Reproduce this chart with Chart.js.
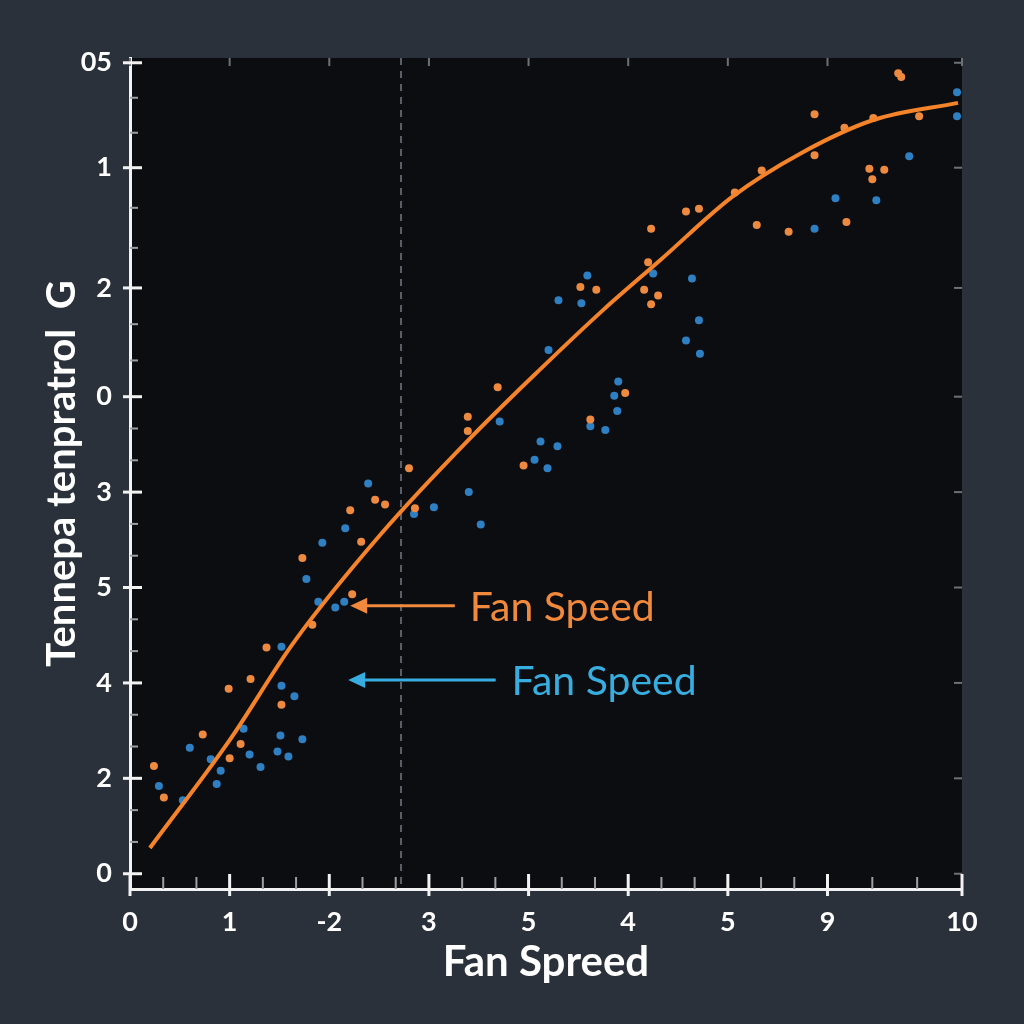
<!DOCTYPE html>
<html>
<head>
<meta charset="utf-8">
<script src="https://cdn.jsdelivr.net/npm/chart.js@4.4.1/dist/chart.umd.min.js"></script>
<style>
  html, body { margin: 0; padding: 0; background: #2b313a; }
  canvas { display: block; }
</style>
</head>
<body>
<canvas id="chart" width="1024" height="1024"></canvas>
<script>
// axis ticks (positions + the odd labels printed on the picture)
var xTickVals = [0, 1, 2, 3, 4, 5, 6, 7, 8.35];
var xTickLabels = ['0', '1', '-2', '3', '5', '4', '5', '9', '10'];
var yTickVals = [0, 1, 2, 3, 4, 5, 6.14, 7.4, 8.5];
var yTickLabels = ['0', '2', '4', '5', '3', '0', '2', '1', '05'];

// fitted curve
var curvePts = [[0.20, 0.27], [1.00, 1.40], [1.64, 2.42], [2.51, 3.55], [3.41, 4.56],
  [4.09, 5.26], [4.75, 5.91], [5.32, 6.43], [6.05, 7.10], [6.73, 7.55], [7.46, 7.90], [8.31, 8.08]];

// orange samples
var orangePts = [[0.24, 1.13], [0.34, 0.80], [0.73, 1.46], [0.99, 1.94], [1.00, 1.21], [1.11, 1.36],
  [1.21, 2.04], [1.37, 2.37], [1.52, 1.77], [1.83, 2.61], [1.73, 3.31], [2.23, 2.93], [2.21, 3.81],
  [2.32, 3.48], [2.46, 3.92], [2.56, 3.87], [2.80, 4.25], [2.86, 3.83], [3.39, 4.79], [3.39, 4.64],
  [3.69, 5.10], [3.95, 4.28], [4.52, 6.15], [4.68, 6.12], [4.62, 4.76], [4.97, 5.04], [5.16, 6.12],
  [5.30, 6.06], [5.23, 5.97], [5.20, 6.41], [5.23, 6.76], [5.58, 6.94], [5.71, 6.97], [6.07, 7.14],
  [6.29, 6.80], [6.34, 7.37], [6.61, 6.73], [6.87, 7.53], [6.87, 7.96], [7.19, 6.83], [7.17, 7.82],
  [7.46, 7.92], [7.42, 7.39], [7.45, 7.28], [7.57, 7.38], [7.92, 7.94], [7.71, 8.39], [7.74, 8.35]];

// blue samples
var bluePts = [[0.29, 0.92], [0.53, 0.77], [0.60, 1.32], [0.81, 1.20], [0.91, 1.08], [0.87, 0.94],
  [1.14, 1.52], [1.20, 1.25], [1.31, 1.12], [1.52, 2.38], [1.52, 1.97], [1.65, 1.86], [1.51, 1.45],
  [1.48, 1.28], [1.59, 1.23], [1.73, 1.41], [1.77, 3.09], [1.89, 2.85], [2.15, 2.85], [2.06, 2.79],
  [1.93, 3.47], [2.16, 3.62], [2.39, 4.09], [2.85, 3.77], [3.05, 3.84], [3.40, 4.00], [3.52, 3.66],
  [3.71, 4.74], [4.06, 4.34], [4.19, 4.25], [4.12, 4.53], [4.29, 4.48], [4.20, 5.49], [4.30, 6.01],
  [4.59, 6.27], [4.53, 5.98], [4.62, 4.69], [4.77, 4.65], [4.90, 5.16], [4.86, 5.01], [4.89, 4.85],
  [5.25, 6.29], [5.64, 6.24], [5.71, 5.80], [5.58, 5.59], [5.72, 5.45], [6.87, 6.76], [7.08, 7.08],
  [7.49, 7.06], [7.82, 7.52], [8.30, 8.19], [8.30, 7.94]];

// dashed marker and the two arrow notes (data units)
var markerX = 2.72;
var notes = [
  { text: 'Fan Speed', color: '#f0893c', from: 3.26, to: 2.21, y: 2.81, textX: 3.41 },
  { text: 'Fan Speed', color: '#38aee0', from: 3.67, to: 2.19, y: 2.03, textX: 3.83 }
];

var BG = '#2b313a';
var PLOT = '#0c0d11';

function toXY(arr) {
  return arr.map(function(p) { return { x: p[0], y: p[1] }; });
}

function thirds(majors) {
  var out = [];
  for (var i = 0; i < majors.length - 1; i++) {
    var step = (majors[i + 1] - majors[i]) / 3;
    out.push(majors[i] + step, majors[i] + 2 * step);
  }
  return out;
}

var bgPlugin = {
  id: 'bg',
  beforeDraw: function(chart) {
    var ctx = chart.ctx, a = chart.chartArea;
    ctx.save();
    ctx.fillStyle = BG;
    ctx.fillRect(0, 0, chart.width, chart.height);
    ctx.fillStyle = PLOT;
    ctx.fillRect(a.left, a.top, a.right - a.left, a.bottom - a.top);
    // dashed vertical marker
    var mx = chart.scales.x.getPixelForValue(markerX);
    ctx.strokeStyle = '#5b6068';
    ctx.lineWidth = 2;
    ctx.setLineDash([7, 6]);
    ctx.beginPath();
    ctx.moveTo(mx, a.top);
    ctx.lineTo(mx, a.bottom);
    ctx.stroke();
    ctx.restore();
  }
};

var ticksPlugin = {
  id: 'axisTicks',
  afterDraw: function(chart) {
    var ctx = chart.ctx, a = chart.chartArea;
    var xs = chart.scales.x, ys = chart.scales.y;
    ctx.save();
    ctx.lineCap = 'butt';
    // minor ticks (grey, inside)
    ctx.strokeStyle = '#9ca0a6';
    ctx.lineWidth = 2;
    thirds(xTickVals).forEach(function(v) {
      var px = xs.getPixelForValue(v);
      ctx.beginPath(); ctx.moveTo(px, a.bottom - 12); ctx.lineTo(px, a.bottom); ctx.stroke();
    });
    thirds(yTickVals).forEach(function(v) {
      var py = ys.getPixelForValue(v);
      ctx.beginPath(); ctx.moveTo(a.left, py); ctx.lineTo(a.left + 8, py); ctx.stroke();
    });
    // mirrored ticks on top and right
    ctx.strokeStyle = '#6c7077';
    xTickVals.forEach(function(v) {
      var px = xs.getPixelForValue(v);
      ctx.beginPath(); ctx.moveTo(px, a.top); ctx.lineTo(px, a.top + 8); ctx.stroke();
    });
    yTickVals.forEach(function(v) {
      var py = ys.getPixelForValue(v);
      ctx.beginPath(); ctx.moveTo(a.right - 8, py); ctx.lineTo(a.right, py); ctx.stroke();
    });
    // major ticks (white)
    ctx.strokeStyle = '#f2f2f2';
    ctx.lineWidth = 3;
    xTickVals.forEach(function(v) {
      var px = xs.getPixelForValue(v);
      ctx.beginPath(); ctx.moveTo(px, a.bottom - 15); ctx.lineTo(px, a.bottom + 7); ctx.stroke();
    });
    yTickVals.forEach(function(v) {
      var py = ys.getPixelForValue(v);
      ctx.beginPath(); ctx.moveTo(a.left - 7, py); ctx.lineTo(a.left + 12, py); ctx.stroke();
    });
    ctx.restore();
  }
};

var notesPlugin = {
  id: 'notes',
  afterDatasetsDraw: function(chart) {
    var ctx = chart.ctx;
    var xs = chart.scales.x, ys = chart.scales.y;
    ctx.save();
    notes.forEach(function(n) {
      var x1 = xs.getPixelForValue(n.from);
      var x2 = xs.getPixelForValue(n.to);
      var y = ys.getPixelForValue(n.y);
      ctx.strokeStyle = n.color;
      ctx.fillStyle = n.color;
      ctx.lineWidth = 3;
      ctx.beginPath(); ctx.moveTo(x1, y); ctx.lineTo(x2 + 12, y); ctx.stroke();
      ctx.beginPath();
      ctx.moveTo(x2, y);
      ctx.lineTo(x2 + 17, y - 8);
      ctx.lineTo(x2 + 17, y + 8);
      ctx.closePath();
      ctx.fill();
      ctx.font = '41px Lato';
      ctx.textAlign = 'left';
      ctx.textBaseline = 'middle';
      ctx.fillText(n.text, xs.getPixelForValue(n.textX), y + 2);
    });
    ctx.restore();
  }
};

new Chart(document.getElementById('chart'), {
  type: 'line',
  data: {
    datasets: [{
      type: 'line',
      label: 'fit',
      data: toXY(curvePts),
      borderColor: '#f5832a',
      borderWidth: 4,
      pointRadius: 0,
      cubicInterpolationMode: 'monotone',
      fill: false,
      order: 0
    }, {
      type: 'scatter',
      label: 'orange',
      data: toXY(orangePts),
      backgroundColor: '#ee8a40',
      borderWidth: 0,
      pointRadius: 4,
      order: 1
    }, {
      type: 'scatter',
      label: 'blue',
      data: toXY(bluePts),
      backgroundColor: '#2f80c2',
      borderWidth: 0,
      pointRadius: 4,
      order: 2
    }]
  },
  options: {
    responsive: false,
    animation: false,
    layout: { padding: { left: 0, top: 58, right: 62, bottom: 0 } },
    plugins: { legend: { display: false }, tooltip: { enabled: false } },
    scales: {
      x: {
        type: 'linear',
        min: 0,
        max: 8.35,
        afterFit: function(s) { s.height = 135; },
        afterBuildTicks: function(s) { s.ticks = xTickVals.map(function(v) { return { value: v }; }); },
        grid: { drawOnChartArea: false, drawTicks: false },
        border: { color: '#f2f2f2', width: 3 },
        ticks: {
          padding: 17,
          color: '#ffffff',
          font: { family: 'Lato', size: 27, weight: 'bold' },
          maxRotation: 0,
          autoSkip: false,
          callback: function(v, i) { return xTickLabels[i]; }
        },
        title: {
          display: true,
          text: 'Fan Spreed',
          color: '#ffffff',
          font: { family: 'Lato', size: 42, weight: 'bold' },
          padding: { top: 0, bottom: 36 }
        }
      },
      y: {
        type: 'linear',
        min: -0.16,
        max: 8.55,
        afterFit: function(s) { s.width = 130; },
        afterBuildTicks: function(s) { s.ticks = yTickVals.map(function(v) { return { value: v }; }); },
        grid: { drawOnChartArea: false, drawTicks: false },
        border: { color: '#f2f2f2', width: 3 },
        ticks: {
          padding: 18,
          color: '#ffffff',
          font: { family: 'Lato', size: 27, weight: 'bold' },
          autoSkip: false,
          callback: function(v, i) { return yTickLabels[i]; }
        },
        title: {
          display: true,
          text: 'Tennepa tenpratrol  G',
          color: '#ffffff',
          font: { family: 'Lato', size: 40, weight: 'bold' },
          padding: { top: 38, bottom: 0 }
        }
      }
    }
  },
  plugins: [bgPlugin, ticksPlugin, notesPlugin]
});
</script>
</body>
</html>
